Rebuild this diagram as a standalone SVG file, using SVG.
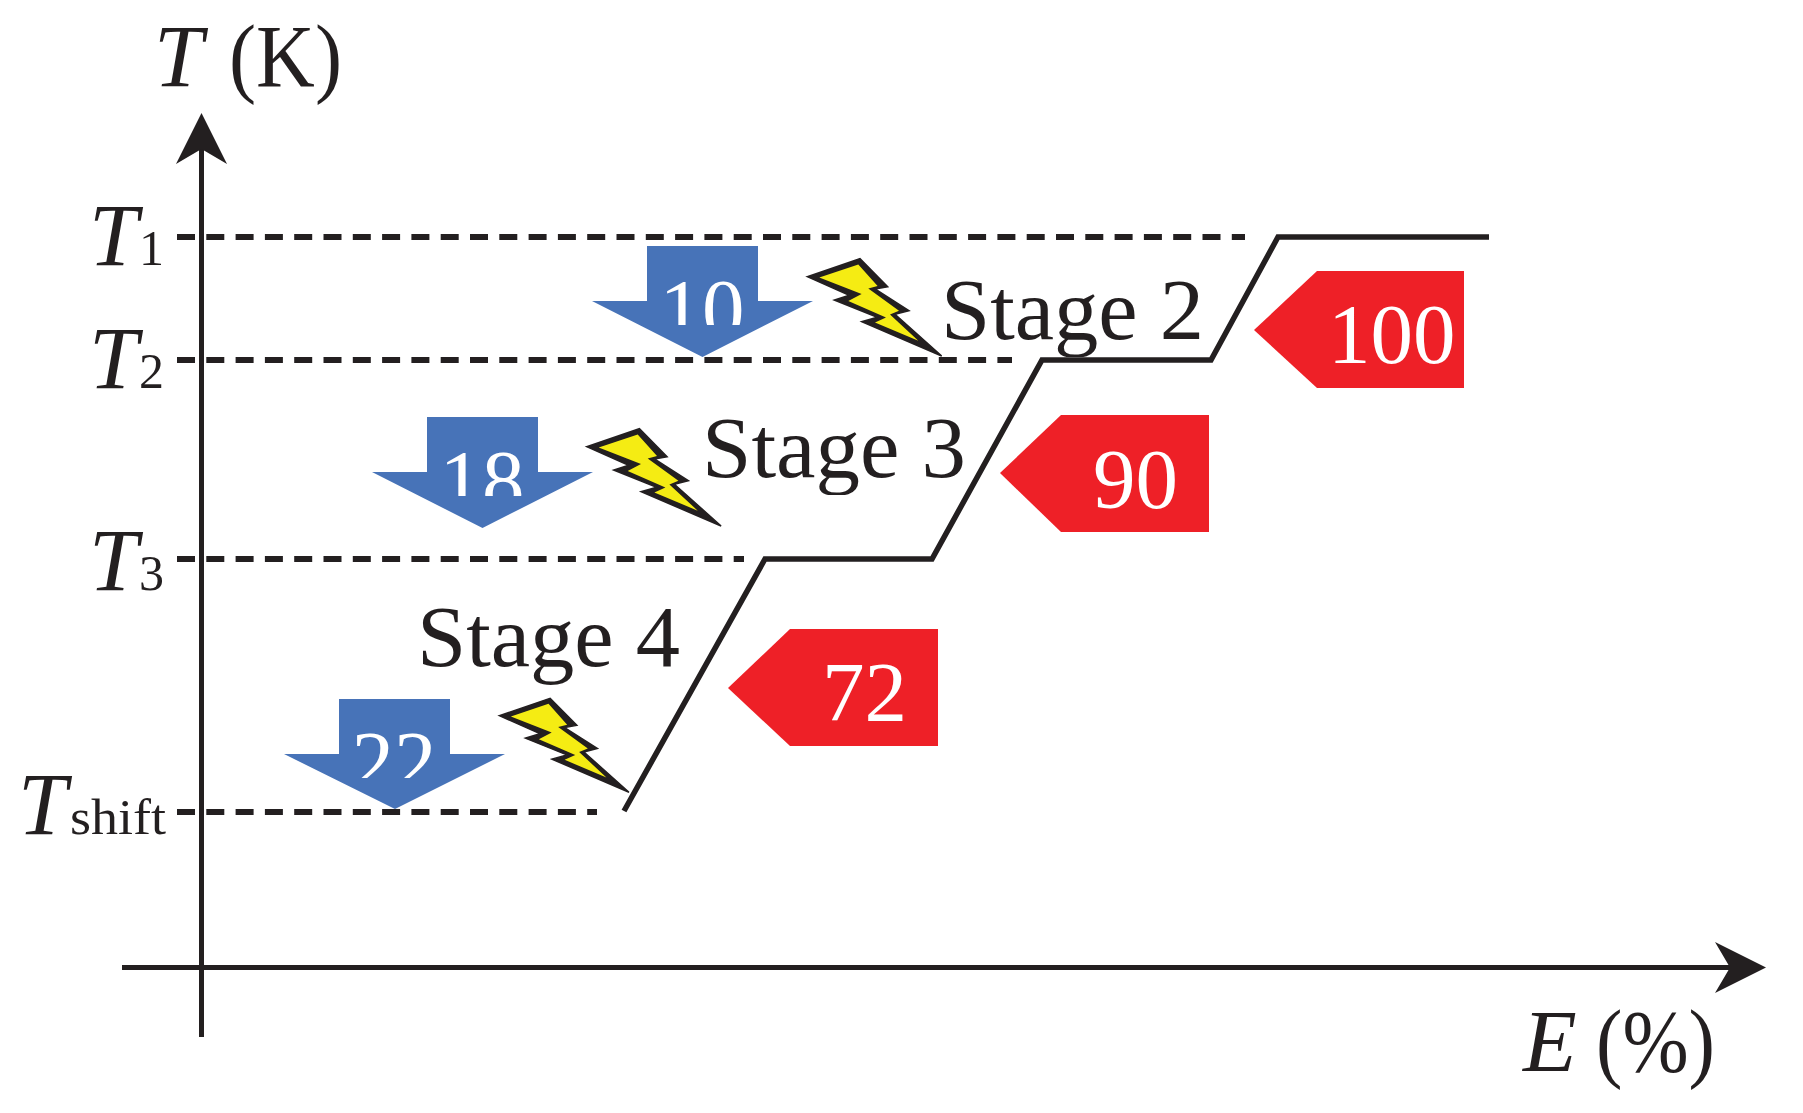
<svg xmlns="http://www.w3.org/2000/svg" xmlns:xlink="http://www.w3.org/1999/xlink" width="1803" height="1113" viewBox="0 0 1803 1113">
<style>
text{font-family:"Liberation Serif","Times New Roman",serif;fill:#231f20}
.lab{font-size:88px}
.it{font-style:italic}
.sub{font-size:50px}
.stage{font-size:87px}
.num{font-size:85px;fill:#fff}
.ax{stroke:#231f20;stroke-width:5;fill:none}
.step{stroke:#231f20;stroke-width:5.5;fill:none;stroke-linejoin:miter}
.dash{stroke:#231f20;stroke-width:6;fill:none;stroke-dasharray:18 11.3}
.head{fill:#231f20}
.blue{fill:#4773b8}
.red{fill:#ee2027}
</style>
<defs>
<g id="bolt">
<polygon fill="#231f20" stroke="#231f20" stroke-width="1.5" points="0,0 52.7,-18 80.4,10 67.7,12.3 101.7,34 87.7,37.6 134.4,79.3 54.4,45 70,40.6 27,23.3 42,18.6"/>
<polygon fill="#f5ec13" points="12,0.7 51,-12.3 70.3,9.3 61,11.7 91.7,34 82.7,37.7 111,64 67.7,45.7 78.7,40.7 41,24.3 54.3,17.3"/>
</g>
<clipPath id="c10"><rect x="640" y="250" width="130" height="75"/></clipPath>
<clipPath id="c18"><rect x="420" y="420" width="130" height="76"/></clipPath>
<clipPath id="c22"><rect x="340" y="700" width="110" height="78"/></clipPath>
<clipPath id="s2"><rect x="930" y="260" width="290" height="97"/></clipPath>
<clipPath id="s3"><rect x="690" y="390" width="290" height="105"/></clipPath>
<clipPath id="s4"><rect x="410" y="590" width="290" height="96"/></clipPath>
</defs>

<g id="connectors">
<path class="dash" d="M177 237H1245"/>
<path class="dash" d="M177 360H1012"/>
<path class="dash" d="M177 559H744"/>
<path class="dash" d="M177 812H597"/>
<path class="step" d="M624 811L765 559H932L1042 360H1211L1278 237H1489"/>
<path class="ax" d="M201.5 1037V140"/>
<polygon class="head" points="201.5,113 227,164 201.5,149 176,164"/>
<path class="ax" d="M122 967.5H1740"/>
<polygon class="head" points="1766,967.5 1715,993 1730,967.5 1715,942"/>
</g>

<g id="axis-t"><text class="lab" y="86"><tspan class="it" x="154">T</tspan><tspan x="229" textLength="113" lengthAdjust="spacingAndGlyphs">(K)</tspan></text></g>
<g id="axis-e"><text class="lab" y="1071"><tspan class="it" x="1523">E</tspan><tspan x="1596" textLength="119" lengthAdjust="spacingAndGlyphs">(%)</tspan></text></g>
<g id="t1"><text class="lab it" x="89" y="265">T</text><text class="sub" x="139" y="265">1</text></g>
<g id="t2"><text class="lab it" x="89" y="388">T</text><text class="sub" x="139" y="388">2</text></g>
<g id="t3"><text class="lab it" x="89" y="590">T</text><text class="sub" x="139" y="590">3</text></g>
<g id="tshift"><text class="lab it" x="18" y="834">T</text><text class="sub" x="70" y="834" textLength="96" lengthAdjust="spacingAndGlyphs">shift</text></g>

<g id="stage2-drop"><polygon class="blue" points="647,246 758,246 758,301 813,301 702.5,357 592,301 647,301"/><text class="num" x="702" y="338" text-anchor="middle" clip-path="url(#c10)">10</text></g>
<g id="stage3-drop"><polygon class="blue" points="427,417 538,417 538,472 593,472 482.5,528 372,472 427,472"/><text class="num" x="482" y="509" text-anchor="middle" clip-path="url(#c18)">18</text></g>
<g id="stage4-drop"><polygon class="blue" points="339,699 450,699 450,754 505,754 395,809 284,754 339,754"/><text class="num" x="394" y="790" text-anchor="middle" clip-path="url(#c22)">22</text></g>

<g id="bolt2"><use xlink:href="#bolt" href="#bolt" transform="translate(807.3 276.7)"/></g>
<g id="bolt3"><use xlink:href="#bolt" href="#bolt" transform="translate(586.7 446.7)"/></g>
<g id="bolt4"><use xlink:href="#bolt" href="#bolt" transform="translate(499.3 715.7) scale(.965)"/></g>

<g id="stage2"><text class="stage" x="941" y="339" textLength="263" lengthAdjust="spacingAndGlyphs" clip-path="url(#s2)">Stage 2</text></g>
<g id="stage3"><text class="stage" x="702" y="477" textLength="264" lengthAdjust="spacingAndGlyphs" clip-path="url(#s3)">Stage 3</text></g>
<g id="stage4"><text class="stage" x="417" y="666" textLength="263" lengthAdjust="spacingAndGlyphs" clip-path="url(#s4)">Stage 4</text></g>

<g id="stage2-gain"><polygon class="red" points="1254,330 1317,271 1464,271 1464,388 1317,388"/><text class="num" x="1328" y="363">100</text></g>
<g id="stage3-gain"><polygon class="red" points="1000,473 1061,415 1209,415 1209,532 1061,532"/><text class="num" x="1093" y="508">90</text></g>
<g id="stage4-gain"><polygon class="red" points="728,688 790,629 938,629 938,746 790,746"/><text class="num" x="822" y="721">72</text></g>
</svg>
